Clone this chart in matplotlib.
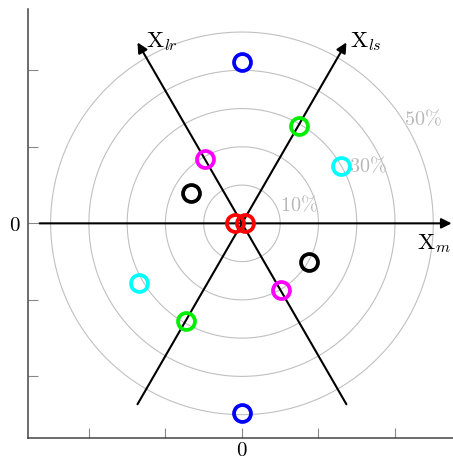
import numpy as np
import matplotlib
matplotlib.use("Agg")
from matplotlib import pyplot as plt

plt.rcParams["mathtext.fontset"] = "cm"

# Point pairs (percent units), one pair per colour
blue_x = [0.0, 0.0]
blue_y = [42.1, -49.5]
green_x = [14.8, -14.6]
green_y = [25.5, -25.4]
magenta_x = [-9.7, 10.2]
magenta_y = [16.8, -17.4]
cyan_x = [25.9, -26.8]
cyan_y = [15.1, -15.5]
black_x = [-13.4, 17.4]
black_y = [8.0, -10.0]
red_x = [-1.8, 0.9]
red_y = [0.0, 0.0]

rings = [10, 20, 30, 40, 50]
ring_labels = {10: (15.0, 4.8), 30: (33.0, 15.1), 50: (47.4, 27.3)}
ticks = [-40, -20, 0, 20, 40]

fig = plt.figure(figsize=(4.53, 4.59), dpi=100)
ax = fig.add_axes([0.0611, 0.0464, 0.946, 0.934])
ax.set_xlim(-56, 56)
ax.set_ylim(-56, 56)
ax.set_aspect("equal")

# Concentric reference circles
t = np.linspace(0, 2 * np.pi, 400)
for r in rings:
    ax.plot(r * np.cos(t), r * np.sin(t), color="#c0c0c0", lw=0.8, zorder=1)
for r, (lx, ly) in ring_labels.items():
    ax.text(lx, ly, r"$%d\%%$" % r, color="#b8b8b8", fontsize=14.5,
            ha="center", va="center", zorder=2)

# Axes X_m, X_ls, X_lr
arrow = dict(arrowstyle="-|>", color="black", lw=1.5, mutation_scale=15,
             shrinkA=0, shrinkB=0)
ax.annotate("", xy=(54.8, 0), xytext=(-52.9, 0), arrowprops=arrow, zorder=3)
L = 54.6
for ang in (60, 120):
    a = np.deg2rad(ang)
    ax.annotate("", xy=(L * np.cos(a), L * np.sin(a)),
                xytext=(-L * np.cos(a), -L * np.sin(a)),
                arrowprops=arrow, zorder=3)
ax.text(54.6, -2.2, r"$\mathrm{X}_m$", fontsize=16.5, ha="right", va="top")
ax.text(28.3, 47.6, r"$\mathrm{X}_{ls}$", fontsize=16.5, ha="left", va="center")
ax.text(-25.2, 47.6, r"$\mathrm{X}_{lr}$", fontsize=16.5, ha="left", va="center")

mk = dict(marker="o", ls="none", ms=12.2, mew=2.7, mfc="none", zorder=4)
ax.plot(blue_x, blue_y, mec="#0000ff", **mk)
ax.plot(green_x, green_y, mec="#00ee00", **mk)
ax.plot(magenta_x, magenta_y, mec="#ff00ff", **mk)
ax.plot(cyan_x, cyan_y, mec="#00ffff", **mk)
ax.plot(black_x, black_y, mec="black", **mk)
ax.plot(red_x, red_y, mec="#ff0000", **mk)

for side in ("top", "right"):
    ax.spines[side].set_visible(False)
for side in ("left", "bottom"):
    ax.spines[side].set_color("#444444")
    ax.spines[side].set_linewidth(1.1)
ax.set_xticks(ticks)
ax.set_yticks(ticks)
ax.set_xticklabels(["$0$" if v == 0 else "" for v in ticks])
ax.set_yticklabels(["$0$" if v == 0 else "" for v in ticks])
ax.tick_params(direction="in", length=7.5, width=0.8, color="#888888",
               labelsize=15)
ax.tick_params(axis="x", pad=2)
ax.tick_params(axis="y", pad=5)

fig.savefig("out.png", dpi=100)
